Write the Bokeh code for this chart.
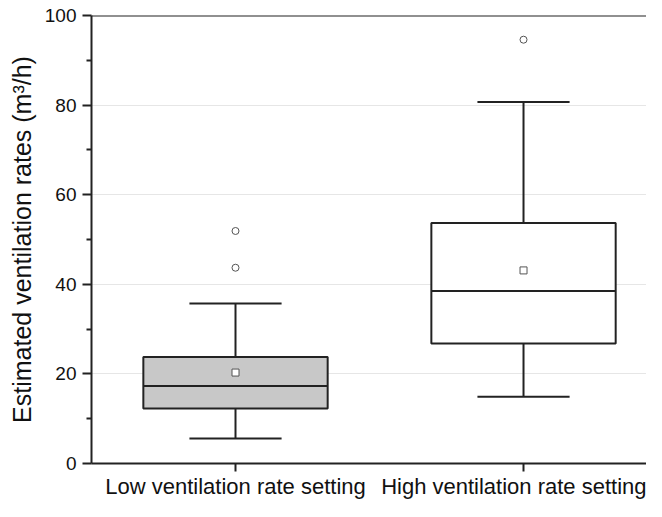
from bokeh.plotting import figure
from bokeh.models import Range1d, FixedTicker, ColumnDataSource, Span
from bokeh.embed import file_html
from bokeh.resources import INLINE

categories = ["Low ventilation rate setting", "High ventilation rate setting"]
lower_whisker = [5.6, 14.9]
q1 = [12.3, 26.8]
median = [17.3, 38.5]
q3 = [23.8, 53.7]
upper_whisker = [35.7, 80.7]
mean = [20.3, 43.1]
outlier_group = [0, 0, 1]
outlier_value = [43.7, 51.9, 94.6]
box_colors = ["#c8c8c8", "#ffffff"]

FONT = "Liberation Sans"
pos = [i + 0.5 for i in range(len(categories))]
BOX_W = 0.64
CAP_W = 0.32

p = figure(width=646, height=501, output_backend="svg", toolbar_location=None,
           x_range=Range1d(0, 1.927), y_range=Range1d(0, 100),
           min_border_left=91, min_border_top=15, min_border_right=0, min_border_bottom=30)
p.outline_line_color = None
p.background_fill_color = "white"
p.border_fill_color = "white"

# grid
p.xgrid.grid_line_color = None
p.ygrid.ticker = FixedTicker(ticks=[20, 40, 60, 80])
p.ygrid.grid_line_color = "#e6e6e6"
p.ygrid.grid_line_width = 1

# y axis
ya = p.yaxis[0]
ya.ticker = FixedTicker(ticks=[0, 20, 40, 60, 80, 100], minor_ticks=[10, 30, 50, 70, 90])
ya.axis_line_width = 2
ya.axis_line_color = "#222222"
ya.major_tick_line_width = 2
ya.major_tick_line_color = "#222222"
ya.minor_tick_line_width = 2
ya.minor_tick_line_color = "#222222"
ya.major_tick_out = 9
ya.major_tick_in = 0
ya.minor_tick_out = 5
ya.minor_tick_in = 0
ya.major_label_text_font = FONT
ya.major_label_text_font_size = "19px"
ya.major_label_text_color = "#111111"
ya.major_label_standoff = 6
ya.axis_label = "Estimated ventilation rates (m³/h)"
ya.axis_label_text_font = FONT
ya.axis_label_text_font_size = "25px"
ya.axis_label_text_font_style = "normal"
ya.axis_label_text_color = "#111111"
ya.axis_label_standoff = 6

# x axis
xa = p.xaxis[0]
xa.ticker = FixedTicker(ticks=pos)
xa.major_label_overrides = {pos[i]: categories[i] for i in range(len(categories))}
xa.axis_line_width = 2
xa.axis_line_color = "#222222"
xa.major_tick_line_width = 2
xa.major_tick_line_color = "#222222"
xa.major_tick_out = 8
xa.major_tick_in = 0
xa.minor_tick_line_color = None
xa.major_label_text_font = FONT
xa.major_label_text_font_size = "22px"
xa.major_label_text_color = "#111111"
xa.major_label_standoff = 2

# top frame line
p.add_layout(Span(location=100, dimension="width", line_color="#222222", line_width=2))

src = ColumnDataSource(dict(x=pos, lw=lower_whisker, q1=q1, med=median, q3=q3,
                            uw=upper_whisker, mean=mean, color=box_colors,
                            cl=[x - CAP_W / 2 for x in pos], cr=[x + CAP_W / 2 for x in pos],
                            bl=[x - BOX_W / 2 for x in pos], br=[x + BOX_W / 2 for x in pos]))

# whiskers
p.segment(x0="x", y0="q3", x1="x", y1="uw", source=src, line_color="#222222", line_width=2)
p.segment(x0="x", y0="lw", x1="x", y1="q1", source=src, line_color="#222222", line_width=2)
p.segment(x0="cl", y0="uw", x1="cr", y1="uw", source=src, line_color="#222222", line_width=2)
p.segment(x0="cl", y0="lw", x1="cr", y1="lw", source=src, line_color="#222222", line_width=2)

# boxes
p.quad(left="bl", right="br", bottom="q1", top="q3", source=src, fill_color="color",
       line_color="#222222", line_width=2)
p.segment(x0="bl", y0="med", x1="br", y1="med", source=src, line_color="#222222", line_width=2)

# mean
p.scatter(x="x", y="mean", source=src, marker="square", size=7, fill_color="white",
          line_color="#555555", line_width=1)

# outliers
p.scatter(x=[pos[g] for g in outlier_group], y=outlier_value, marker="circle", size=7,
          fill_color="white", line_color="#555555", line_width=1)

open("out.html", "w").write(file_html(p, INLINE))
